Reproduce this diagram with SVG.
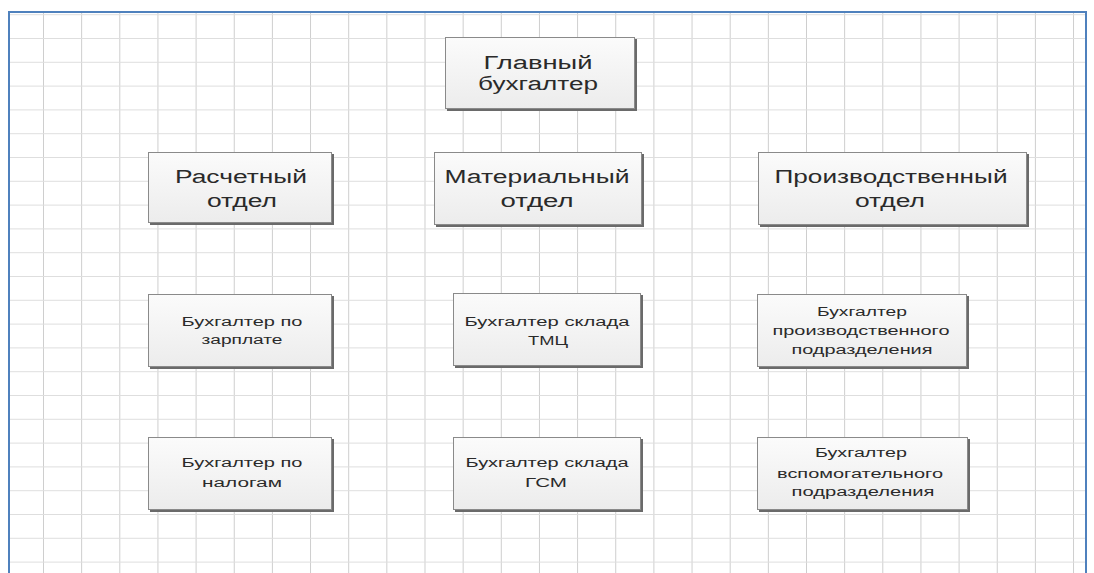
<svg xmlns="http://www.w3.org/2000/svg" width="1094" height="573" viewBox="0 0 1094 573">
<defs>
<linearGradient id="boxfill" x1="0" y1="0" x2="0" y2="1">
<stop offset="0" stop-color="#fbfbfb"/>
<stop offset="1" stop-color="#ececec"/>
</linearGradient>
<pattern id="grid" x="43" y="38" width="38.15" height="23.8" patternUnits="userSpaceOnUse">
<line x1="0.5" y1="0" x2="0.5" y2="23.8" stroke="#cdcdcd" stroke-width="1"/>
<line x1="0" y1="0.5" x2="38.15" y2="0.5" stroke="#dedede" stroke-width="1"/>
</pattern>
<style>
.shadow{fill:#6a6a6a;}
.box{fill:url(#boxfill);stroke:#8a8a8a;stroke-width:1;}
.t{font-family:"Liberation Sans",Arial,sans-serif;fill:#2a2a2a;text-anchor:middle;}
.big{font-size:18px;}
.small{font-size:12.5px;}
</style>
</defs>
<rect x="0" y="0" width="1094" height="573" fill="#ffffff"/>
<rect x="10" y="13" width="1075" height="560" fill="url(#grid)"/>
<path d="M9,573 V12 H1086 V573" fill="none" stroke="#4f81bd" stroke-width="2"/>
<g id="connectors"></g>
<g id="n-glavbuh">
<rect class="shadow" x="447" y="39" width="190" height="72"/>
<rect class="box" x="445.5" y="37.5" width="189" height="71"/>
<text class="t big" x="538" y="69" textLength="109" lengthAdjust="spacingAndGlyphs">Главный</text>
<text class="t big" x="538" y="90" textLength="120" lengthAdjust="spacingAndGlyphs">бухгалтер</text>
</g>
<g id="n-raschet">
<rect class="shadow" x="150" y="154" width="184" height="71"/>
<rect class="box" x="148.5" y="152.5" width="183" height="70"/>
<text class="t big" x="241" y="183" textLength="132" lengthAdjust="spacingAndGlyphs">Расчетный</text>
<text class="t big" x="242" y="207" textLength="70" lengthAdjust="spacingAndGlyphs">отдел</text>
</g>
<g id="n-mater">
<rect class="shadow" x="436" y="154" width="208" height="73"/>
<rect class="box" x="434.5" y="152.5" width="207" height="72"/>
<text class="t big" x="537" y="183" textLength="185" lengthAdjust="spacingAndGlyphs">Материальный</text>
<text class="t big" x="537" y="207" textLength="73" lengthAdjust="spacingAndGlyphs">отдел</text>
</g>
<g id="n-proizv">
<rect class="shadow" x="760" y="154" width="269" height="73"/>
<rect class="box" x="758.5" y="152.5" width="268" height="72"/>
<text class="t big" x="891" y="183" textLength="233" lengthAdjust="spacingAndGlyphs">Производственный</text>
<text class="t big" x="890" y="207" textLength="70" lengthAdjust="spacingAndGlyphs">отдел</text>
</g>
<g id="n-zarplata">
<rect class="shadow" x="150" y="296" width="184" height="73"/>
<rect class="box" x="148.5" y="294.5" width="183" height="72"/>
<text class="t small" x="242" y="326" textLength="121" lengthAdjust="spacingAndGlyphs">Бухгалтер по</text>
<text class="t small" x="242" y="344" textLength="81" lengthAdjust="spacingAndGlyphs">зарплате</text>
</g>
<g id="n-tmc">
<rect class="shadow" x="455" y="295" width="188" height="73"/>
<rect class="box" x="453.5" y="293.5" width="187" height="72"/>
<text class="t small" x="547" y="326" textLength="165" lengthAdjust="spacingAndGlyphs">Бухгалтер склада</text>
<text class="t small" x="548" y="345" textLength="40" lengthAdjust="spacingAndGlyphs">ТМЦ</text>
</g>
<g id="n-proizvpodr">
<rect class="shadow" x="759" y="296" width="210" height="73"/>
<rect class="box" x="757.5" y="294.5" width="209" height="72"/>
<text class="t small" x="862" y="316" textLength="90" lengthAdjust="spacingAndGlyphs">Бухгалтер</text>
<text class="t small" x="861" y="335" textLength="177" lengthAdjust="spacingAndGlyphs">производственного</text>
<text class="t small" x="862" y="354" textLength="141" lengthAdjust="spacingAndGlyphs">подразделения</text>
</g>
<g id="n-nalogi">
<rect class="shadow" x="150" y="439" width="184" height="73"/>
<rect class="box" x="148.5" y="437.5" width="183" height="72"/>
<text class="t small" x="242" y="467" textLength="121" lengthAdjust="spacingAndGlyphs">Бухгалтер по</text>
<text class="t small" x="242" y="487" textLength="80" lengthAdjust="spacingAndGlyphs">налогам</text>
</g>
<g id="n-gsm">
<rect class="shadow" x="455" y="439" width="188" height="73"/>
<rect class="box" x="453.5" y="437.5" width="187" height="72"/>
<text class="t small" x="547" y="467" textLength="163" lengthAdjust="spacingAndGlyphs">Бухгалтер склада</text>
<text class="t small" x="546" y="487" textLength="42" lengthAdjust="spacingAndGlyphs">ГСМ</text>
</g>
<g id="n-vspom">
<rect class="shadow" x="759" y="439" width="211" height="73"/>
<rect class="box" x="757.5" y="437.5" width="210" height="72"/>
<text class="t small" x="861" y="457" textLength="92" lengthAdjust="spacingAndGlyphs">Бухгалтер</text>
<text class="t small" x="860" y="478" textLength="166" lengthAdjust="spacingAndGlyphs">вспомогательного</text>
<text class="t small" x="863" y="496" textLength="143" lengthAdjust="spacingAndGlyphs">подразделения</text>
</g>
</svg>
